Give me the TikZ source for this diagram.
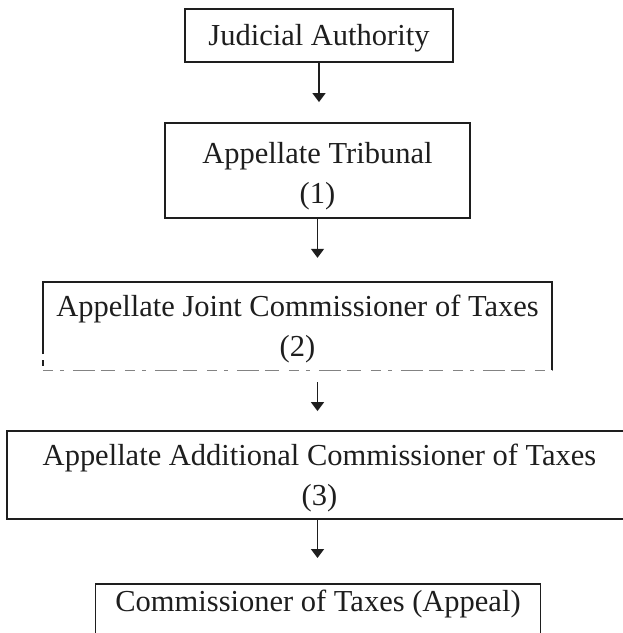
\documentclass[tikz,border=0pt]{standalone}
\usepackage{fontspec}
\setmainfont{Liberation Serif}
\usetikzlibrary{arrows.meta}
\definecolor{ink}{HTML}{1E1E1E}
\begin{document}
\begin{tikzpicture}[x=1pt,y=-1pt,
  every node/.style={inner sep=0pt, align=center, text=ink,
    font=\fontsize{30.5}{40}\selectfont},
  stage/.style={draw=ink, line width=1.8pt},
  edge/.style={draw=ink, line width=1.8pt},
  flow/.style={draw=ink, line width=1.6pt, -{Triangle[width=13pt,length=9pt]}}]
\useasboundingbox (0,0) rectangle (623,633);

% frames of the levels of appeal
\node[stage, minimum width=268pt, minimum height=53pt] (b1) at (319,35.5) {};
\node[stage, minimum width=305pt, minimum height=95pt] (b2) at (317.5,170.5) {};
\node[minimum width=509pt, minimum height=88pt] (b3) at (297.5,326) {};
\node[stage, minimum width=625pt, minimum height=88pt] (b4) at (319.5,475) {};
\node[stage, anchor=north, minimum width=445pt, minimum height=80pt] (b5) at (318,583) {};

% their labels
\node (t1) at ([yshift=-3pt]b1.center) {Judicial Authority};
\node (t2) at ([yshift=-6pt]b2.center) {Appellate Tribunal\\(1)};
\node (t3) at ([yshift=-3pt]b3.center) {Appellate Joint Commissioner of Taxes\\(2)};
\node (t4) at ([yshift=-3pt]b4.center) {Appellate Additional Commissioner of Taxes\\(3)};
\node (t5) at (318,604) {Commissioner of Taxes (Appeal)};

% frame of level (2): faint, broken lower edge
\draw[edge] ([yshift=16pt]b3.south west) -- (b3.north west) -- (b3.north east) -- (b3.south east);
\draw[edge] ([yshift=10pt]b3.south west) -- ([yshift=4pt]b3.south west);
\draw[ink!55, line width=1.3pt, dash pattern=on 10pt off 7pt on 4pt off 9pt on 22pt off 6pt on 14pt off 10pt]
  (b3.south west) -- (b3.south east);

% arrows
\draw[flow, shorten >=20pt] (b1.south) -- (b1.south |- b2.north);
\draw[flow, shorten >=24pt] (b2.south) -- (b2.south |- b3.north);
\draw[flow, shorten <=12pt, shorten >=19pt] (b3.south -| b2.south) -- (b4.north -| b2.south);
\draw[flow, shorten >=25pt] (b4.south -| b2.south) -- (b5.north -| b2.south);
\end{tikzpicture}
\end{document}
